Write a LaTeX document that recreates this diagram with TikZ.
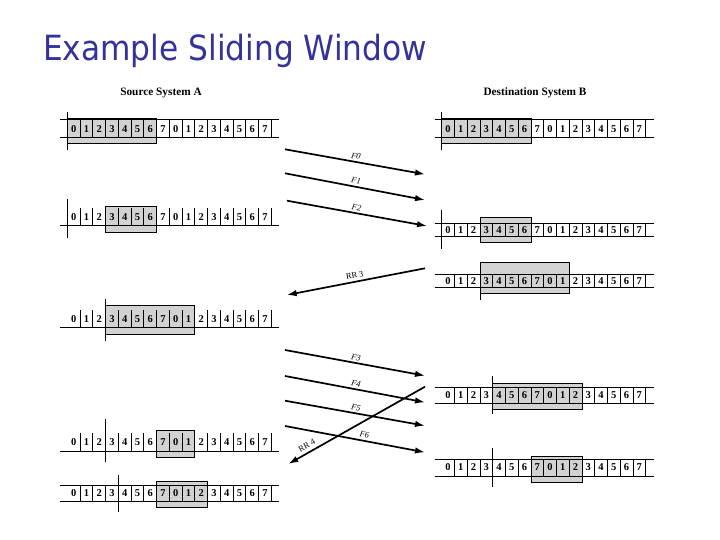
\documentclass[tikz,border=0pt]{standalone}
\usepackage{fontspec}
\setmainfont{Liberation Serif}
\newfontfamily\titlefont{DejaVu Sans}
\usetikzlibrary{arrows.meta}
\definecolor{titleblue}{RGB}{51,51,153}
\definecolor{winfill}{RGB}{210,210,210}
\begin{document}
\begin{tikzpicture}[x=1pt,y=-1pt,
  strip/.style={line width=0.9pt},
  winbox/.style={fill=winfill,draw=black,line width=0.8pt},
  digit/.style={font=\bfseries\fontsize{10.5}{11}\selectfont,inner sep=0pt},
  head/.style={font=\bfseries\fontsize{11.3}{12}\selectfont,inner sep=0pt},
  arr/.style={line width=1.7pt,-{Latex[length=10pt,width=6.5pt]}},
  rarr/.style={line width=1.7pt,{Latex[length=10pt,width=6.5pt]}-},
  lab/.style={font=\itshape\fontsize{8.5}{9}\selectfont,sloped,above,inner sep=2pt},
  rrlab/.style={font=\fontsize{8.5}{9}\selectfont,sloped,above,inner sep=2.5pt}]
\useasboundingbox (0,0) rectangle (720,540);
\def\w{12.75}
% title
\node[anchor=base west,inner sep=0pt,text=titleblue,font=\titlefont\fontsize{34.7}{40}\selectfont] (title) at (43,61) {\scalebox{0.9}[1]{Example Sliding Window}};
% headings
\node[head] (srcA) at (161,93) {Source System A};
\node[head] (dstB) at (535,93) {Destination System B};
% rows: name / x0 / yc / top / bottom / drawtop / box start / box end / box top / box bottom / vline index / vline top / vline bottom
\foreach \nm/\x/\yc/\t/\b/\tp/\bs/\be/\bt/\bb/\vi/\vt/\vb in {
  sa/67.3/128.5/119.5/137/1/0/7/118.5/143/0/112/150,
  sb/67.3/217/208/225.5/0/3/7/206/232/0/199/238,
  sc/67.3/319/310/327/0/3/10/305/334/3/299/341,
  sd/67.3/442/433/451/0/7/10/430/457/3/419/462,
  se/67.3/493/485/501/1/7/11/481/507/4/475/512,
  da/441.7/128.5/119.5/137/1/0/7/118.5/143/0/112/150,
  db/441.7/230/223/236.5/1/3/7/217/242.5/0/210/249,
  dc/441.7/281/274/287.5/1/3/10/262/293/3/262/300,
  dd/441.7/395/387/403/1/4/11/383/409/4/376/414,
  de/441.7/467/459/476/1/7/11/456/482/4/448/487}{
  \path[winbox] (\x+\bs*\w,\bt) rectangle (\x+\be*\w,\bb);
  \draw[strip] (\x-7,\b) -- (\x+16*\w+8,\b);
  \ifnum\tp=1 \draw[strip] (\x-7,\t) -- (\x+16*\w+8,\t);\fi
  \foreach \k in {1,...,16}{\draw[strip] (\x+\k*\w,\t) -- (\x+\k*\w,\b);}
  \draw[strip] (\x+\vi*\w,\vt) -- (\x+\vi*\w,\vb);
  \foreach \k in {0,...,15}{
    \pgfmathtruncatemacro\dg{mod(\k,8)}
    \node[digit] (\nm-\k) at (\x+\k*\w+\w/2,\yc+0.5) {\dg};
  }
}
% frame and ack arrows
\coordinate (f0s) at (285,149.3); \coordinate (f0e) at (425,174.3);
\coordinate (f1s) at (285,173.3); \coordinate (f1e) at (425,200);
\coordinate (f2s) at (287,200.7); \coordinate (f2e) at (427,226);
\coordinate (r3s) at (425,268.3); \coordinate (r3e) at (286.7,295);
\coordinate (f3s) at (285,350);   \coordinate (f3e) at (425,375.7);
\coordinate (f4s) at (285,376);   \coordinate (f4e) at (425,402.3);
\coordinate (f5s) at (285,400.7); \coordinate (f5e) at (425,425.7);
\coordinate (f6s) at (285,426);   \coordinate (f6e) at (425,452.3);
\coordinate (r4s) at (425,386.7); \coordinate (r4e) at (288.3,464);
\draw[arr] (f0s) -- node[lab,pos=0.5] {F0} (f0e);
\draw[arr] (f1s) -- node[lab,pos=0.5] {F1} (f1e);
\draw[arr] (f2s) -- node[lab,pos=0.49] {F2} (f2e);
\draw[rarr] (r3e) -- node[rrlab,pos=0.5] {RR 3} (r3s);
\draw[arr] (f3s) -- node[lab,pos=0.5] {F3} (f3e);
\draw[arr] (f4s) -- node[lab,pos=0.5] {F4} (f4e);
\draw[arr] (f5s) -- node[lab,pos=0.5] {F5} (f5e);
\draw[arr] (f6s) -- node[lab,pos=0.56] {F6} (f6e);
\draw[rarr] (r4e) -- node[rrlab,pos=0.16,inner sep=3.5pt] {RR 4} (r4s);
\end{tikzpicture}
\end{document}
